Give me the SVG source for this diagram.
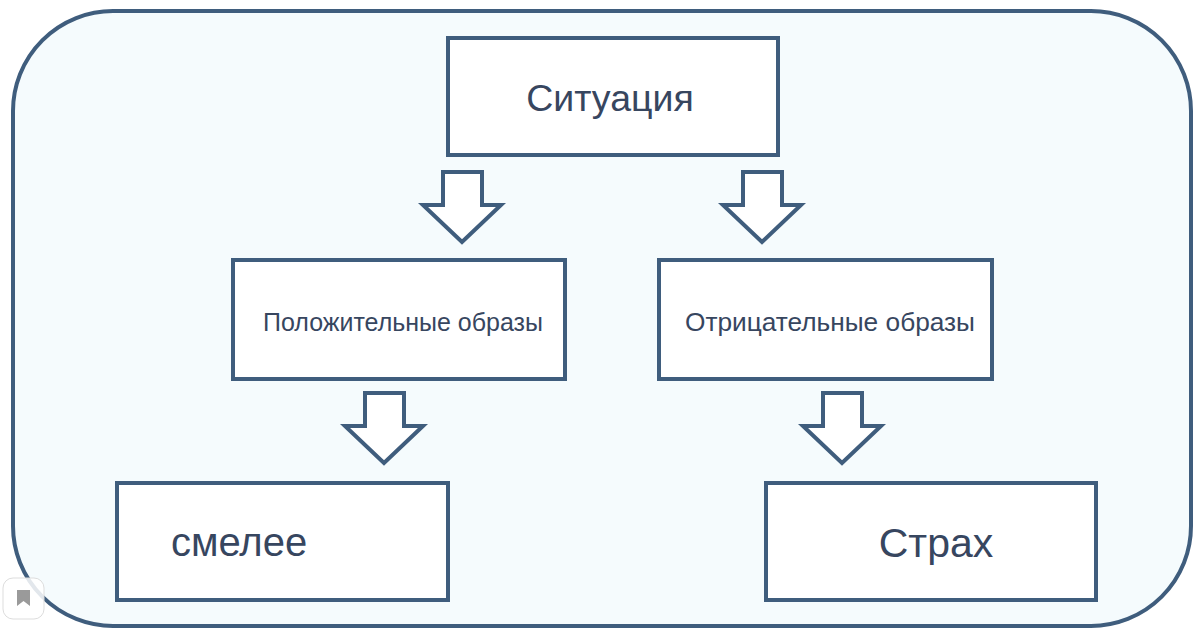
<svg xmlns="http://www.w3.org/2000/svg" width="1200" height="633" viewBox="0 0 1200 633">
<style>
.box{fill:#ffffff;stroke:#3f5d7d;stroke-width:4}
.arr{fill:#ffffff;stroke:#3f5d7d;stroke-width:4;stroke-linejoin:miter}
.t{font-family:"Liberation Sans",Arial,sans-serif;fill:#37465f;text-anchor:middle}
.small{font-size:25px}
</style>
<rect width="1200" height="633" fill="#ffffff"/>
<rect id="frame" x="13" y="11" width="1178" height="615" rx="100" ry="100" fill="#f5fbfd" stroke="#3f5d7d" stroke-width="4"/>
<g id="connectors">
<path class="arr" d="M443,172 H482 V205 H501 L462,242 L423,205 H443 Z"/>
<path class="arr" d="M743,172 H782 V205 H801 L762,242 L723,205 H743 Z"/>
<path class="arr" d="M365,393 H404 V426 H423 L384,463 L345,426 H365 Z"/>
<path class="arr" d="M823,393 H862 V426 H881 L842,463 L803,426 H823 Z"/>
</g>
<g id="situation">
<rect class="box" x="448" y="38" width="330" height="117"/>
<text class="t" font-size="37.5" x="610" y="111">Ситуация</text>
</g>
<g id="positive">
<rect class="box" x="233" y="260" width="332" height="119"/>
<text class="t small" x="403" y="331" textLength="280" lengthAdjust="spacingAndGlyphs">Положительные образы</text>
</g>
<g id="negative">
<rect class="box" x="659" y="260" width="333" height="119"/>
<text class="t small" x="830" y="331" textLength="290" lengthAdjust="spacingAndGlyphs">Отрицательные образы</text>
</g>
<g id="bolder">
<rect class="box" x="117" y="483" width="331" height="117"/>
<text class="t" font-size="40" x="239" y="556">смелее</text>
</g>
<g id="fear">
<rect class="box" x="766" y="483" width="330" height="117"/>
<text class="t" font-size="41" x="936" y="557">Страх</text>
</g>
<g id="bookmark">
<rect x="3" y="578" width="41" height="41" rx="10" fill="#ffffff" fill-opacity="0.85" stroke="#dddddd" stroke-width="1"/>
<path d="M17,590 H30 V606 L23.5,601 L17,606 Z" fill="#9a9a9a"/>
</g>
</svg>
